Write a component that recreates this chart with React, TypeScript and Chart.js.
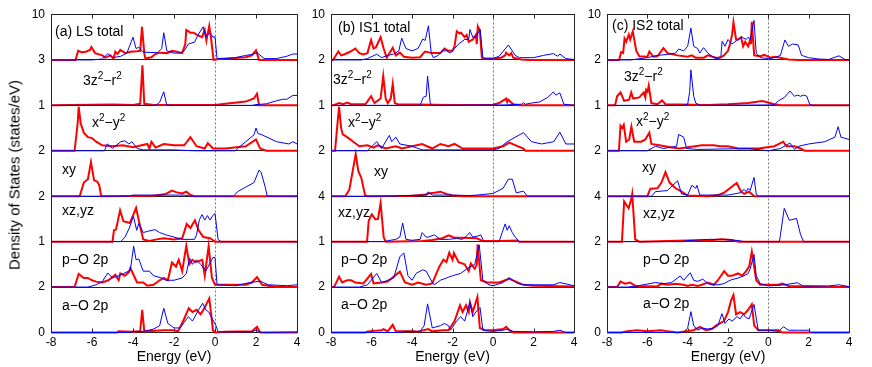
import React, { useEffect, useRef } from "react";
import { Chart, registerables } from "chart.js";
Chart.register(...registerables);

type Pt = [number, number];

const energyTicks = [-8, -6, -4, -2, 0, 2, 4];
const panelTopTicksLS = [10, 3, 1, 2, 2, 1, 2];
const panelTopTicksIS1 = [10, 2, 1, 2, 4, 1, 2];
const panelTopTicksIS2 = [10, 2, 1, 2, 4, 2, 2];

// ---------- (a) LS ----------
const lsTotalUp: Pt[] = [[-8,0],[-6.8,0],[-6.68,2.0],[-6.5,1.7],[-6.3,1.8],[-6.1,2.2],[-6.03,2.85],[-5.85,1.5],[-5.5,1.0],[-5.35,0.5],[-5.1,1.0],[-4.95,0.3],[-4.86,1.8],[-4.75,1.3],[-4.62,2.2],[-4.37,1.5],[-4.13,1.8],[-3.8,1.9],[-3.65,2.0],[-3.56,7.3],[-3.45,1.5],[-3.4,0.3],[-3.1,0.6],[-2.91,1.3],[-2.7,1.6],[-2.34,1.5],[-2.1,2.0],[-1.85,1.8],[-1.6,1.5],[-1.45,3.5],[-1.4,6.6],[-1.2,6.0],[-1.04,6.0],[-0.88,5.5],[-0.63,5.0],[-0.5,6.6],[-0.42,4.3],[-0.28,7.5],[-0.2,5.0],[-0.07,0],[0.2,0.2],[1.0,0.4],[1.5,0.6],[1.8,1.0],[2.0,2.1],[2.15,0],[4,0]];
const lsTotalDn: Pt[] = [[-8,0],[-6.0,0],[-5.5,0.2],[-5.23,1.4],[-5.0,0.5],[-4.6,0.8],[-4.3,1.5],[-4.0,5.0],[-3.85,2.5],[-3.72,2.8],[-3.5,1.7],[-2.8,1.6],[-2.6,2.5],[-2.5,6.0],[-2.35,2.0],[-2.0,1.5],[-1.7,1.5],[-1.5,2.0],[-1.3,3.5],[-1.0,3.9],[-0.85,5.3],[-0.58,7.3],[-0.45,5.0],[-0.38,5.3],[-0.25,6.0],[-0.1,5.0],[0.0,5.1],[0.1,0.3],[0.5,0.3],[1.0,0.5],[1.5,1.0],[1.8,1.2],[2.05,1.6],[2.4,0.3],[3.0,0.3],[3.5,0.8],[3.8,1.3],[4,1.3]];
const ls3z2Up: Pt[] = [[-8,0],[-7,0.03],[-5,0.05],[-4,0.03],[-3.65,0.1],[-3.54,2.65],[-3.45,0.1],[-3,0.02],[0,0.03],[0.5,0.1],[1.5,0.25],[1.9,0.45],[2.05,0.77],[2.15,0],[4,0]];
const ls3z2Dn: Pt[] = [[-8,0],[-2.9,0],[-2.7,0.2],[-2.5,0.9],[-2.35,0],[1.8,0],[2.0,0.05],[2.5,0.1],[3.0,0.3],[3.3,0.4],[3.5,0.4],[3.8,0.66],[4,0.65]];
const lsX2y2Up: Pt[] = [[-8,0],[-6.85,0],[-6.7,0.6],[-6.65,0.97],[-6.55,0.6],[-6.4,0.4],[-6.2,0.3],[-6.0,0.28],[-5.8,0.2],[-5.5,0.12],[-5.0,0.1],[-4.5,0.12],[-4.0,0.08],[-3.3,0.15],[-3.2,0.05],[-3.1,0.2],[-2.9,0.07],[-2.5,0.15],[-2.0,0.12],[-1.5,0.12],[-1.2,0.3],[-0.9,0.1],[-0.5,0.05],[-0.35,0.17],[-0.1,0.05],[0.5,0.05],[1.5,0.1],[2.0,0.25],[2.2,0.05],[2.5,0],[4,0]];
const lsX2y2Dn: Pt[] = [[-8,0],[-5.4,0],[-5.25,0.15],[-5.0,0.05],[-4.6,0.2],[-4.4,0.22],[-4.2,0.15],[-4.05,0.2],[-3.8,0.05],[-3.5,0.02],[-2,0.02],[-1,0],[1.0,0],[1.1,0.05],[1.5,0.2],[1.9,0.35],[2.0,0.5],[2.1,0.38],[2.3,0.35],[3.0,0.2],[3.6,0.15],[3.8,0.2],[4,0.15]];
const lsXyUp: Pt[] = [[-8,0],[-6.6,0],[-6.4,0.6],[-6.2,0.75],[-6.05,1.5],[-5.9,0.7],[-5.75,0.65],[-5.65,0.5],[-5.55,0],[-3,0.02],[-2.4,0.1],[-2.1,0.25],[-1.9,0.18],[-1.6,0.12],[-1.4,0.2],[-1.2,0.05],[-1.0,0],[4,0]];
const lsXyDn: Pt[] = [[-8,0],[-4.2,0],[-4.0,0.05],[-1.5,0.05],[-1.2,0],[0.9,0],[1.1,0.2],[1.5,0.4],[1.9,0.6],[2.15,1.15],[2.25,1.05],[2.45,0.4],[2.55,0],[4,0]];
const lsXzUp: Pt[] = [[-8,0],[-5.0,0],[-4.93,0.5],[-4.83,0.53],[-4.63,1.38],[-4.47,0.9],[-4.15,0.82],[-3.85,1.49],[-3.66,0.7],[-3.5,0.1],[-3.2,0.03],[-2.85,0.1],[-2.5,0.15],[-2.0,0.1],[-1.6,0.15],[-1.38,0.78],[-1.2,0.6],[-0.98,0.94],[-0.8,0.5],[-0.57,0.2],[-0.24,0.15],[-0.08,0.05],[0,0],[4,0]];
const lsXzDn: Pt[] = [[-8,0],[-4.6,0],[-4.39,0.2],[-4.18,0.6],[-3.98,1.12],[-3.82,0.5],[-3.72,0.8],[-3.5,0.4],[-3.3,0.45],[-2.93,0.53],[-2.7,0.4],[-2.4,0.3],[-2.0,0.2],[-1.6,0.1],[-1.0,0.1],[-0.9,0.3],[-0.76,0.97],[-0.63,1.19],[-0.5,0.95],[-0.37,1.15],[-0.24,0.95],[-0.11,1.15],[0.0,1.24],[0.15,0.1],[0.3,0],[4,0]];
const lsPOUp: Pt[] = [[-8,0],[-6.85,0],[-6.65,0.29],[-6.4,0.2],[-6.2,0.2],[-6.0,0.15],[-5.8,0.12],[-5.5,0.1],[-5.2,0.15],[-4.86,0.27],[-4.7,0.15],[-4.62,0.3],[-4.4,0.25],[-4.2,0.33],[-4.13,0.42],[-3.8,0.1],[-3.5,0.1],[-3.3,0.03],[-3.0,0.05],[-2.7,0.15],[-2.5,0.2],[-2.3,0.15],[-2.1,0.54],[-1.9,0.45],[-1.77,0.6],[-1.6,0.35],[-1.4,0.91],[-1.25,0.5],[-1.1,0.6],[-0.95,0.55],[-0.62,0.6],[-0.5,0.25],[-0.31,0.9],[-0.15,0.2],[0,0.05],[1.5,0.05],[1.8,0.1],[2.05,0.22],[2.3,0.05],[3,0],[4,0]];
const lsPODn: Pt[] = [[-8,0],[-6.2,0],[-5.8,0.05],[-5.5,0.12],[-5.23,0.31],[-5.0,0.2],[-4.7,0.25],[-4.45,0.3],[-4.13,0.37],[-3.97,0.9],[-3.85,0.6],[-3.72,0.62],[-3.5,0.35],[-3.2,0.35],[-3.0,0.25],[-2.6,0.2],[-2.4,0.15],[-2.0,0.15],[-1.6,0.2],[-1.4,0.3],[-1.24,0.64],[-1.1,0.5],[-0.9,0.6],[-0.7,0.5],[-0.45,0.35],[-0.1,0.65],[0.0,0.65],[0.1,0.05],[1.0,0.03],[1.7,0.1],[2.2,0.13],[2.6,0.05],[3.5,0.03],[4,0.05]];
const lsAOUp: Pt[] = [[-8,0],[-4.8,0],[-4.7,0.05],[-4.0,0.03],[-3.65,0.05],[-3.55,1.0],[-3.45,0.05],[-2.5,0.1],[-2.0,0.1],[-1.8,0.05],[-1.53,0.55],[-1.28,1.07],[-1.1,0.9],[-0.9,1.0],[-0.7,0.8],[-0.5,1.1],[-0.28,1.5],[-0.2,0.9],[-0.1,0.1],[0,0],[0.5,0.03],[1.8,0.05],[2.05,0.25],[2.2,0],[4,0]];
const lsAODn: Pt[] = [[-8,0],[-4.1,0],[-4.0,0.05],[-3.5,0.05],[-3.0,0.15],[-2.7,0.3],[-2.5,1.07],[-2.3,0.4],[-2.0,0.2],[-1.7,0.2],[-1.5,0.45],[-1.3,0.7],[-1.1,0.5],[-0.8,1.0],[-0.6,1.29],[-0.45,1.0],[-0.3,0.9],[-0.1,0.55],[0.05,0.3],[0.15,0.03],[1.8,0.03],[2.0,0.1],[2.3,0],[4,0.02]];

// ---------- (b) IS1 ----------
const is1TotalUp: Pt[] = [[-8,0],[-7.9,0],[-7.64,1.85],[-7.5,1.0],[-7.3,1.3],[-7.06,1.8],[-6.8,2.5],[-6.6,1.5],[-6.4,1.2],[-6.2,1.5],[-6.02,4.4],[-5.9,2.5],[-5.78,2.8],[-5.55,5.0],[-5.4,2.5],[-5.25,0.5],[-4.95,2.7],[-4.8,1.0],[-4.6,1.6],[-4.4,0.7],[-4.0,0.5],[-3.6,0.6],[-3.36,1.85],[-3.0,1.5],[-2.6,1.5],[-2.4,2.5],[-2.2,2.0],[-2.0,2.0],[-1.9,3.0],[-1.79,6.3],[-1.65,5.8],[-1.58,6.0],[-1.4,5.0],[-1.3,5.5],[-1.2,4.0],[-1.0,4.5],[-0.85,5.5],[-0.8,3.5],[-0.75,7.4],[-0.65,6.5],[-0.55,0.5],[-0.5,0.3],[0,0.3],[0.4,0.5],[0.6,1.0],[0.65,1.6],[0.8,1.0],[0.9,1.5],[1.0,0.5],[1.4,0.1],[1.8,0],[4,0]];
const is1TotalDn: Pt[] = [[-8,0],[-6.5,0],[-6.2,0.3],[-5.74,1.26],[-5.5,0.5],[-5.2,1.0],[-4.9,1.3],[-4.65,2.0],[-4.51,4.8],[-4.3,2.5],[-4.0,2.0],[-3.7,2.5],[-3.47,4.6],[-3.35,4.3],[-3.19,7.5],[-3.05,1.5],[-2.95,0.5],[-2.7,1.0],[-2.5,2.0],[-2.3,2.0],[-2.1,1.5],[-1.9,2.5],[-1.7,3.5],[-1.4,4.5],[-1.2,4.5],[-1.14,6.7],[-1.0,5.0],[-0.85,5.0],[-0.64,6.8],[-0.5,0.5],[-0.3,0.2],[0,0.3],[0.3,0.8],[0.76,3.3],[0.95,2.0],[1.1,1.0],[1.3,0.5],[2.0,0.5],[2.5,1.0],[2.98,1.4],[3.2,0.8],[3.3,1.3],[3.6,0.3],[4,0.1]];
const is13z2Up: Pt[] = [[-8,0],[-7.9,0],[-7.6,0.1],[-7.4,0.05],[-7.2,0.12],[-7.0,0.05],[-6.3,0.05],[-6.02,0.4],[-5.85,0.1],[-5.55,0.3],[-5.42,1.29],[-5.3,0.3],[-5.2,0.1],[-5.05,0.3],[-4.95,0.95],[-4.85,0.1],[-4.7,0.05],[-2,0.02],[0,0.03],[0.3,0.1],[0.65,0.3],[0.7,0.15],[0.75,0.25],[1.0,0.05],[1.3,0],[4,0]];
const is13z2Dn: Pt[] = [[-8,0],[-3.6,0],[-3.44,0.36],[-3.3,0.4],[-3.23,1.29],[-3.1,0.1],[-3.0,0],[0.6,0.02],[1.4,0.05],[1.5,0.12],[1.6,0.05],[1.9,0.1],[2.3,0.15],[2.7,0.35],[2.98,0.59],[3.1,0.45],[3.3,0.55],[3.5,0.05],[4,0]];
const is1X2y2Up: Pt[] = [[-8,0],[-7.8,0],[-7.68,0.6],[-7.6,0.97],[-7.5,0.5],[-7.42,0.36],[-7.2,0.3],[-6.9,0.2],[-6.6,0.1],[-6.2,0.12],[-5.9,0.07],[-5.7,0.12],[-5.3,0.05],[-4.8,0.1],[-4.5,0.05],[-3.5,0.15],[-3.0,0.05],[-2.6,0.15],[-2.2,0.1],[-1.9,0.15],[-1.5,0.05],[0,0.05],[0.5,0.1],[0.8,0.18],[1.5,0.05],[1.6,0],[4,0]];
const is1X2y2Dn: Pt[] = [[-8,0],[-6.2,0],[-5.74,0.2],[-5.5,0.05],[-5.12,0.34],[-5.0,0.2],[-4.8,0.3],[-4.6,0.15],[-4.0,0.1],[-3.5,0.02],[0,0.02],[0.3,0.05],[0.7,0.2],[1.5,0.4],[1.9,0.2],[2.4,0.15],[3.0,0.2],[3.3,0.41],[3.6,0.15],[4,0.15]];
const is1XyUp: Pt[] = [[-8,0],[-7.3,0],[-7.1,0.27],[-6.95,1.0],[-6.78,1.85],[-6.65,1.1],[-6.5,0.8],[-6.32,0.05],[-6.2,0],[-4.0,0.02],[-3.4,0.06],[-3.2,0.12],[-2.9,0.15],[-2.6,0.2],[-2.3,0.1],[-2.0,0.03],[-1.5,0],[4,0]];
const is1XyDn: Pt[] = [[-8,0],[-5,0],[-4.5,0.03],[-3.25,0.05],[-3.2,0.19],[-3.0,0.05],[-2.0,0.05],[-1.2,0.03],[-0.8,0.05],[0,0.12],[0.5,0.35],[0.76,0.75],[0.95,0.75],[1.15,0.15],[1.5,0.22],[1.7,0],[4,0]];
const is1XzUp: Pt[] = [[-8,0],[-6.22,0],[-6.14,1.8],[-6.05,2.2],[-5.98,2.4],[-5.81,1.96],[-5.68,2.0],[-5.55,3.4],[-5.4,0.4],[-5.3,0],[-3.5,0.05],[-3.0,0.15],[-2.5,0.3],[-2.19,0.56],[-1.9,0.35],[-1.5,0.35],[-0.8,0.3],[-0.5,0.05],[0.3,0.05],[1.2,0.1],[1.3,0],[4,0]];
const is1XzDn: Pt[] = [[-8,0],[-5.4,0],[-5.2,0.08],[-4.8,0.2],[-4.6,0.4],[-4.46,1.64],[-4.3,0.2],[-4.0,0.12],[-3.6,0.2],[-3.5,0.8],[-3.3,0.4],[-3.2,0.4],[-2.9,0.6],[-2.6,0.2],[-2.2,0.2],[-1.8,0.28],[-1.5,0.2],[-1.25,0.6],[-1.15,0.8],[-1.0,0.4],[-0.75,0.5],[-0.6,0.6],[-0.45,0],[0.3,0],[0.45,0.8],[0.6,1.56],[0.7,1.0],[0.8,1.4],[0.95,0.8],[1.1,0.4],[1.3,0],[4,0]];
const is1POUp: Pt[] = [[-8,0],[-7.85,0],[-7.6,0.23],[-7.45,0.1],[-7.2,0.15],[-7.0,0.15],[-6.8,0.1],[-6.4,0.08],[-6.02,0.29],[-5.9,0.08],[-5.5,0.1],[-5.2,0.12],[-4.6,0.34],[-4.35,0.1],[-4.0,0.05],[-3.7,0.1],[-3.3,0.05],[-3.0,0.08],[-2.65,0.45],[-2.45,0.6],[-2.3,0.55],[-2.16,0.76],[-2.0,0.6],[-1.93,0.75],[-1.7,0.55],[-1.4,0.5],[-1.2,0.35],[-1.1,0.52],[-0.9,0.4],[-0.8,0.5],[-0.76,0.94],[-0.6,0.15],[-0.3,0.1],[0.3,0.1],[0.6,0.15],[0.8,0.18],[1.5,0.05],[2.0,0.03],[4,0.01]];
const is1PODn: Pt[] = [[-8,0],[-6.6,0],[-6.2,0.05],[-5.74,0.3],[-5.5,0.1],[-5.2,0.15],[-4.9,0.2],[-4.6,0.67],[-4.4,0.75],[-4.2,0.25],[-4.0,0.15],[-3.8,0.3],[-3.47,0.38],[-3.3,0.35],[-3.0,0.1],[-2.9,0.05],[-2.6,0.15],[-2.3,0.2],[-2.0,0.25],[-1.6,0.3],[-1.3,0.4],[-1.1,0.45],[-0.9,0.5],[-0.68,0.93],[-0.5,0.15],[-0.2,0.05],[0,0.03],[0.5,0.1],[0.8,0.21],[1.2,0.08],[1.5,0.05],[3.0,0.05],[3.3,0.1],[4,0.03]];
const is1AOUp: Pt[] = [[-8,0],[-6.3,0],[-6.2,0.05],[-5.5,0.1],[-5.4,0.15],[-5.2,0.05],[-4.95,0.34],[-4.8,0.05],[-4.0,0.05],[-3.7,0.03],[-3.2,0.15],[-3.0,0.05],[-2.5,0.1],[-2.2,0.1],[-1.9,0.5],[-1.63,1.19],[-1.5,0.9],[-1.33,1.2],[-1.2,0.9],[-1.14,1.33],[-1.0,0.9],[-0.77,1.56],[-0.65,0.2],[-0.4,0.1],[0,0.1],[0.5,0.15],[0.65,0.25],[0.8,0.1],[1.0,0],[4,0]];
const is1AODn: Pt[] = [[-8,0],[-4.5,0],[-4.3,0.05],[-3.6,0.05],[-3.4,0.3],[-3.23,1.26],[-3.0,0.2],[-2.6,0.3],[-2.4,0.4],[-2.2,0.3],[-2.1,0.1],[-1.8,0.5],[-1.6,0.7],[-1.4,0.5],[-1.14,1.33],[-1.0,0.7],[-0.85,0.9],[-0.64,1.1],[-0.5,0.1],[0,0.05],[0.5,0.1],[0.7,0.15],[1.0,0.05],[2.0,0.03],[3.0,0.05],[3.3,0.1],[3.6,0],[4,0]];

// ---------- (c) IS2 ----------
const is2TotalUp: Pt[] = [[-8,0],[-7.4,0],[-7.3,1.7],[-7.2,1.5],[-7.13,4.7],[-7.05,4.0],[-6.92,5.6],[-6.85,4.5],[-6.72,6.3],[-6.55,2.0],[-6.4,0.8],[-6.0,0.7],[-5.9,1.85],[-5.7,0.7],[-5.5,0.8],[-5.2,2.6],[-5.0,1.5],[-4.5,1.0],[-4.0,0.7],[-3.8,1.0],[-3.6,0.5],[-3.2,0.5],[-3.0,1.0],[-2.6,0.5],[-2.4,0.5],[-2.2,1.0],[-2.0,2.0],[-1.9,3.5],[-1.8,5.5],[-1.73,8.3],[-1.6,4.5],[-1.5,4.5],[-1.35,5.0],[-1.25,3.0],[-1.15,4.0],[-1.0,3.0],[-0.9,4.5],[-0.86,3.5],[-0.82,8.4],[-0.7,1.0],[-0.4,0.8],[-0.2,1.1],[0.1,0.5],[0.3,0.7],[0.6,0.5],[1.0,0.1],[1.5,0],[4,0]];
const is2TotalDn: Pt[] = [[-8,0],[-6.8,0],[-6.5,0.2],[-6.0,0.5],[-5.5,1.0],[-5.0,1.2],[-4.6,1.5],[-4.45,2.4],[-4.2,2.0],[-4.0,3.0],[-3.84,7.0],[-3.7,3.0],[-3.5,2.5],[-3.4,1.5],[-3.21,2.7],[-3.0,1.5],[-2.7,0.5],[-2.5,0.2],[-2.35,1.0],[-2.29,4.1],[-2.15,3.0],[-2.0,4.5],[-1.8,3.5],[-1.5,4.5],[-1.3,5.0],[-1.1,4.5],[-1.0,5.0],[-0.9,4.5],[-0.71,8.7],[-0.6,1.5],[-0.4,0.5],[0,0.3],[0.3,0.5],[0.6,1.0],[0.82,4.4],[1.0,3.0],[1.2,3.5],[1.48,3.3],[1.65,1.0],[2.0,0.5],[2.5,0.2],[3.0,0.1],[3.5,0.9],[3.8,0.1],[4,0]];
const is23z2Up: Pt[] = [[-8,0],[-7.6,0],[-7.5,0.4],[-7.33,0.57],[-7.15,0.2],[-6.9,0.25],[-6.8,0.57],[-6.7,0.3],[-6.4,0.35],[-6.18,0.57],[-6.1,0.35],[-6.06,0.68],[-5.99,0.6],[-5.93,0.87],[-5.8,0.1],[-5.5,0.05],[-5.27,0.22],[-5.1,0.05],[-3,0.02],[-2,0.05],[-1,0.1],[-0.3,0.19],[-0.1,0.15],[0.3,0.05],[0.6,0],[4,0]];
const is23z2Dn: Pt[] = [[-8,0],[-4.2,0],[-4.0,0.05],[-3.9,0.6],[-3.84,1.56],[-3.7,0.4],[-3.6,0.1],[-3.4,0],[0.3,0.02],[0.5,0.2],[0.8,0.35],[1.07,0.63],[1.3,0.4],[1.45,0.45],[1.6,0.4],[1.75,0.45],[1.9,0.41],[2.05,0.05],[2.2,0],[4,0]];
const is2X2y2Up: Pt[] = [[-8,0],[-7.41,0],[-7.33,0.55],[-7.25,0.5],[-7.17,0.57],[-7.05,0.2],[-6.9,0.25],[-6.79,0.53],[-6.65,0.2],[-6.3,0.2],[-6.1,0.25],[-5.9,0.4],[-5.8,0.15],[-5.4,0.12],[-4.8,0.07],[-4.4,0.05],[-3.3,0.12],[-3.0,0.12],[-2.7,0.12],[-2.4,0.1],[-2.0,0.1],[-1.5,0.05],[-0.5,0.05],[0.3,0.1],[0.74,0.2],[0.9,0.1],[1.3,0.1],[1.6,0.05],[1.8,0],[4,0]];
const is2X2y2Dn: Pt[] = [[-8,0],[-6.0,0],[-5.6,0.1],[-5.2,0.05],[-4.55,0.1],[-4.45,0.36],[-4.2,0.3],[-4.05,0.05],[-3.5,0.03],[-1.0,0.05],[0,0],[0.6,0.05],[1.07,0.17],[1.3,0.03],[1.5,0.1],[2.0,0.15],[2.8,0.2],[3.3,0.3],[3.46,0.53],[3.6,0.3],[4,0.25]];
const is2XyUp: Pt[] = [[-8,0],[-6.0,0],[-5.85,0.33],[-5.5,0.35],[-5.3,0.6],[-5.1,1.06],[-4.9,0.6],[-4.6,0.35],[-4.3,0.2],[-4.0,0.03],[-3,0],[-2.5,0.05],[-2.2,0.15],[-1.57,0.58],[-1.35,0.2],[-1.2,0.1],[-0.95,0.2],[-0.7,0],[4,0]];
const is2XyDn: Pt[] = [[-8,0],[-5.8,0],[-5.6,0.2],[-5.0,0.25],[-4.5,0.68],[-4.3,0.1],[-4.0,0.05],[-3.79,0.48],[-3.6,0.35],[-3.54,0.48],[-3.4,0.05],[-2.0,0.05],[-1.4,0.15],[-1.2,0.3],[-1.1,0.2],[-1.0,0.35],[-0.9,0.25],[-0.71,0.83],[-0.6,0.1],[-0.5,0],[4,0]];
const is2XzUp: Pt[] = [[-8,0],[-7.26,0],[-7.15,3.54],[-6.93,2.94],[-6.8,3.7],[-6.75,4.2],[-6.6,0.2],[-6.4,0],[-4.0,0.1],[-3.0,0.1],[-2.3,0.2],[-1.8,0.14],[-1.5,0],[4,0]];
const is2XzDn: Pt[] = [[-8,0],[-4.3,0],[-4.0,0.1],[-3.0,0.2],[-2.3,0.2],[-1.5,0.1],[-1.2,0],[0.55,0],[0.6,0.6],[0.79,2.94],[1.04,1.88],[1.4,2.04],[1.6,0.6],[1.75,0],[4,0]];
const is2POUp: Pt[] = [[-8,0],[-7.5,0],[-7.33,0.24],[-7.1,0.15],[-6.85,0.2],[-6.6,0.05],[-5.5,0.03],[-5.3,0.15],[-5.0,0.1],[-4.6,0.15],[-4.2,0.1],[-4.0,0.05],[-3.8,0.1],[-3.5,0.05],[-3.3,0.1],[-3.0,0.2],[-2.7,0.1],[-2.5,0.3],[-2.19,0.7],[-2.0,0.5],[-1.8,0.5],[-1.5,0.6],[-1.3,0.5],[-1.1,0.7],[-0.95,0.9],[-0.82,1.56],[-0.6,0.3],[-0.4,0.1],[0,0.1],[0.5,0.1],[0.7,0.15],[1.0,0.05],[2.0,0.03],[3.0,0],[4,0]];
const is2PODn: Pt[] = [[-8,0],[-7.0,0],[-6.5,0.05],[-5.6,0.2],[-5.2,0.15],[-4.8,0.2],[-4.37,0.49],[-4.2,0.3],[-3.87,0.63],[-3.7,0.3],[-3.5,0.25],[-3.25,0.35],[-3.0,0.15],[-2.8,0.1],[-2.5,0.1],[-2.2,0.15],[-1.9,0.3],[-1.5,0.4],[-1.2,0.5],[-1.0,0.6],[-0.9,0.8],[-0.71,1.44],[-0.6,0.5],[-0.4,0.15],[0,0.05],[0.8,0.1],[1.45,0.19],[1.7,0.05],[3.0,0.05],[3.5,0.1],[4,0.02]];
const is2AOUp: Pt[] = [[-8,0],[-7.3,0],[-7.0,0.05],[-6.5,0.1],[-6.0,0.05],[-5.3,0.1],[-5.0,0.05],[-4.5,0],[-3.7,0.1],[-3.4,0.25],[-3.1,0.1],[-2.8,0.15],[-2.6,0.3],[-2.4,0.4],[-2.2,0.5],[-2.0,0.9],[-1.85,1.4],[-1.73,1.65],[-1.6,0.8],[-1.4,0.9],[-1.2,0.8],[-1.0,1.0],[-0.82,1.24],[-0.7,0.3],[-0.5,0.1],[-0.2,0.1],[0.2,0.1],[0.5,0.1],[0.7,0],[4,0]];
const is2AODn: Pt[] = [[-8,0],[-4.2,0],[-4.0,0.2],[-3.84,0.92],[-3.7,0.3],[-3.5,0.1],[-3.3,0.2],[-3.0,0.15],[-2.7,0.2],[-2.5,0.3],[-2.3,0.83],[-2.15,0.4],[-1.95,0.6],[-1.8,0.5],[-1.55,0.7],[-1.4,0.6],[-1.25,0.8],[-1.1,0.65],[-0.95,0.6],[-0.71,1.24],[-0.5,0.1],[0,0.1],[0.5,0.05],[0.75,0.25],[1.0,0.1],[1.5,0.1],[2.0,0.1],[2.1,0],[4,0]];

const FONT = "'Liberation Sans', Arial, Helvetica, sans-serif";
const FRAME = "#222";
const RED = "#ff0000";
const BLUE = "#0000ff";

type Col = {
  plotLeft: number;
  plotWidth: number;
  topTicks: number[];
  up: Pt[][];
  dn: Pt[][];
};

const columns: Col[] = [
  { plotLeft: 51, plotWidth: 246, topTicks: panelTopTicksLS,
    up: [lsTotalUp, ls3z2Up, lsX2y2Up, lsXyUp, lsXzUp, lsPOUp, lsAOUp],
    dn: [lsTotalDn, ls3z2Dn, lsX2y2Dn, lsXyDn, lsXzDn, lsPODn, lsAODn] },
  { plotLeft: 331, plotWidth: 243, topTicks: panelTopTicksIS1,
    up: [is1TotalUp, is13z2Up, is1X2y2Up, is1XyUp, is1XzUp, is1POUp, is1AOUp],
    dn: [is1TotalDn, is13z2Dn, is1X2y2Dn, is1XyDn, is1XzDn, is1PODn, is1AODn] },
  { plotLeft: 607, plotWidth: 242, topTicks: panelTopTicksIS2,
    up: [is2TotalUp, is23z2Up, is2X2y2Up, is2XyUp, is2XzUp, is2POUp, is2AOUp],
    dn: [is2TotalDn, is23z2Dn, is2X2y2Dn, is2XyDn, is2XzDn, is2PODn, is2AODn] },
];

const AXIS_W = 40;
const PAD_R = 8;
const H = 367;

const gnuFrame = {
  id: "gnuFrame",
  beforeDatasetsDraw(chart: any) {
    const { ctx, chartArea: a, scales } = chart;
    const xs = scales.x;
    ctx.save();
    const x0 = Math.round(xs.getPixelForValue(0)) + 0.5;
    ctx.strokeStyle = "#777";
    ctx.lineWidth = 1;
    ctx.setLineDash([2, 2]);
    ctx.beginPath();
    ctx.moveTo(x0, a.top);
    ctx.lineTo(x0, a.bottom);
    ctx.stroke();
    ctx.setLineDash([]);
    ctx.strokeStyle = FRAME;
    ctx.beginPath();
    for (const v of energyTicks) {
      const px = Math.round(xs.getPixelForValue(v)) + 0.5;
      ctx.moveTo(px, a.top);
      ctx.lineTo(px, a.top + 4);
      ctx.moveTo(px, a.bottom);
      ctx.lineTo(px, a.bottom - 4);
    }
    ctx.stroke();
    ctx.restore();
  },
};

function ColumnChart({ col }: { col: Col }) {
  const ref = useRef<HTMLCanvasElement>(null);
  useEffect(() => {
    if (!ref.current) return;
    const tickFont = { family: FONT, size: 12 };
    const scales: any = {
      x: {
        type: "linear",
        min: -8,
        max: 4,
        afterBuildTicks: (s: any) => { s.ticks = energyTicks.map((v) => ({ value: v })); },
        afterFit: (s: any) => { s.height = 34.5; },
        grid: { display: false, drawTicks: false },
        border: { display: true, color: FRAME, width: 1 },
        ticks: { font: tickFont, color: "#000", padding: 3, maxRotation: 0, autoSkip: false },
        title: { display: true, text: "Energy (eV)", font: { family: FONT, size: 14 }, color: "#000", padding: { top: 0, bottom: 1.6 } },
      },
      yr: {
        type: "linear",
        position: "right",
        afterFit: (s: any) => { s.width = 0; },
        grid: { display: false, drawTicks: false },
        ticks: { display: false },
        border: { display: true, color: FRAME, width: 1 },
      },
    };
    for (let i = 6; i >= 0; i--) {
      const isBottom = i === 6;
      scales["p" + i] = {
        type: "linear",
        position: "left",
        stack: "col",
        stackWeight: 1,
        min: 0,
        max: col.topTicks[i],
        afterBuildTicks: (s: any) => {
          s.ticks = isBottom ? [{ value: 0 }, { value: s.max }] : [{ value: s.max }];
        },
        afterFit: (s: any) => { s.width = AXIS_W; },
        grid: { color: FRAME, lineWidth: 1, drawTicks: false },
        border: { display: true, color: FRAME, width: 1 },
        ticks: { font: tickFont, color: "#000", padding: 6, autoSkip: false, callback: (v: any) => String(v) },
      };
    }
    const datasets: any[] = [];
    for (let i = 0; i < 7; i++) {
      datasets.push({ data: col.dn[i], yAxisID: "p" + i, borderColor: BLUE, borderWidth: 1, order: 0 });
      datasets.push({ data: col.up[i], yAxisID: "p" + i, borderColor: RED, borderWidth: 2, order: 1 });
    }
    const chart = new Chart(ref.current, {
      type: "line",
      data: { datasets },
      options: {
        animation: false,
        responsive: false,
        events: [],
        clip: false as any,
        layout: { padding: { left: 0, right: PAD_R, top: 14.5, bottom: 0 } },
        elements: { point: { radius: 0 }, line: { tension: 0, fill: false } },
        plugins: { legend: { display: false }, tooltip: { enabled: false } },
        scales,
      },
      plugins: [gnuFrame],
    });
    return () => chart.destroy();
  }, [col]);
  const w = AXIS_W + col.plotWidth + PAD_R;
  return (
    <canvas
      ref={ref}
      width={w}
      height={H}
      style={{ position: "absolute", left: col.plotLeft - AXIS_W, top: 0, width: w, height: H }}
    />
  );
}

const sup = (t: string) => <sup style={{ fontSize: 10, verticalAlign: "6px", lineHeight: 0 }}>{t}</sup>;

const panelLabels: { x: number; y: number; node: React.ReactNode }[] = [
  { x: 55, y: 31, node: "(a) LS total" },
  { x: 83, y: 80, node: <>3z{sup("2")}−r{sup("2")}</> },
  { x: 92, y: 122, node: <>x{sup("2")}−y{sup("2")}</> },
  { x: 62, y: 169, node: "xy" },
  { x: 62, y: 210, node: "xz,yz" },
  { x: 62, y: 259, node: "p−O 2p" },
  { x: 62, y: 305, node: "a−O 2p" },
  { x: 338, y: 27, node: "(b) IS1 total" },
  { x: 333, y: 79, node: <>3z{sup("2")}−r{sup("2")}</> },
  { x: 348, y: 122, node: <>x{sup("2")}−y{sup("2")}</> },
  { x: 374, y: 171, node: "xy" },
  { x: 338, y: 212, node: "xz,yz" },
  { x: 341, y: 259, node: "p−O 2p" },
  { x: 341, y: 304, node: "a−O 2p" },
  { x: 612, y: 25, node: "(c) IS2 total" },
  { x: 624, y: 76, node: <>3z{sup("2")}−r{sup("2")}</> },
  { x: 636, y: 121, node: <>x{sup("2")}−y{sup("2")}</> },
  { x: 642, y: 167, node: "xy" },
  { x: 643, y: 213, node: "xz,yz" },
  { x: 643, y: 259, node: "p−O 2p" },
  { x: 643, y: 303, node: "a−O 2p" },
];

export default function App() {
  return (
    <div style={{ position: "fixed", left: 0, top: 0, width: 872, height: 367, background: "#fff", overflow: "hidden", fontFamily: FONT }}>
      {columns.map((c, i) => (
        <ColumnChart key={i} col={c} />
      ))}
      {panelLabels.map((l, i) => (
        <div
          key={i}
          style={{ position: "absolute", left: l.x, top: l.y - 8, fontSize: 14, lineHeight: "16px", color: "#000", whiteSpace: "nowrap", pointerEvents: "none" }}
        >
          {l.node}
        </div>
      ))}
      <div
        style={{ position: "absolute", left: 14, top: 175, transform: "translate(-50%, -50%) rotate(-90deg)", fontSize: 15, color: "#000", whiteSpace: "nowrap" }}
      >
        Density of States (states/eV)
      </div>
    </div>
  );
}
